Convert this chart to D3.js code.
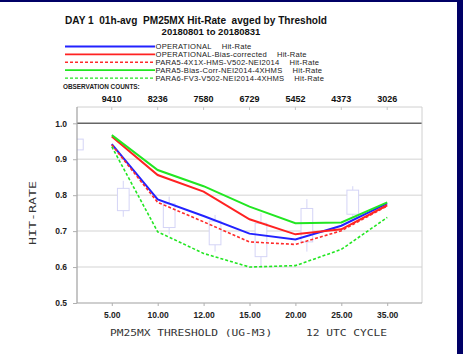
<!DOCTYPE html>
<html>
<head>
<meta charset="utf-8">
<script src="https://cdn.jsdelivr.net/npm/d3@7"></script>
<style>
  body{margin:0;background:#000066;}
  svg{display:block;}
  text{font-family:"Liberation Sans",Arial,sans-serif;}
  text.mono{font-family:"DejaVu Sans Mono","Liberation Mono",monospace;}
</style>
</head>
<body>
<div class="canvas"></div>
<script>
// data
const thresholds=[5,10,12,15,20,25,35];
const obsCounts=[9410,8236,7580,6729,5452,4373,3026];
const yTicks=[0.5,0.6,0.7,0.8,0.9,1.0];

const operational      =[0.942,0.788,0.742,0.693,0.677,0.715,0.777];
const operationalBias  =[0.963,0.856,0.810,0.733,0.691,0.705,0.772];
const para5            =[0.940,0.780,0.726,0.670,0.663,0.701,0.770];
const para5BiasCorr    =[0.967,0.870,0.825,0.768,0.722,0.724,0.780];
const para6Fv3         =[0.935,0.698,0.638,0.600,0.604,0.649,0.738];

// faint box marks (whisker low, box low, box high, whisker high)
const boxLow   =[0.926,0.740,0.691,0.643,0.600,0.643,0.740];
const boxQ1    =[0.926,0.757,0.710,0.662,0.629,0.670,0.747];
const boxQ3    =[0.956,0.819,0.776,0.728,0.722,0.763,0.814];
const boxHigh  =[0.956,0.840,0.796,0.745,0.750,0.789,0.825];

const seriesNames=['OPERATIONAL','OPERATIONAL-Bias-corrected','PARA5-4X1X-HMS-V502-NEI2014',
                   'PARA5-Bias-Corr-NEI2014-4XHMS','PARA6-FV3-V502-NEI2014-4XHMS'];
const seriesValues=[operational,operationalBias,para5,para5BiasCorr,para6Fv3];
const seriesColors=['#2222ff','#ff2222','#ff2a2a','#22e622','#22e622'];
const seriesDash=[null,null,'3,2',null,'3,2'];

const W=463,H=354;
const svg=d3.select('.canvas').append('svg').attr('width',W).attr('height',H);

// white panel
svg.append('rect').attr('x',0).attr('y',2).attr('width',457).attr('height',H-2).attr('fill','#fff');

const pLeft=77,pRight=422,pTop=107,pBottom=303;

const x=d3.scalePoint().domain(thresholds).range([pLeft,pRight]).padding(0.758);
const y=d3.scaleLinear().domain([0.5,1.0]).range([pBottom,123.3]);

// clip for plot
svg.append('clipPath').attr('id','plotclip').append('rect')
   .attr('x',pLeft).attr('y',pTop).attr('width',pRight-pLeft).attr('height',pBottom-pTop);

// grid
svg.append('g').selectAll('line').data(yTicks.filter(d=>d>0.5&&d<1.0)).join('line')
   .attr('x1',pLeft).attr('x2',pRight).attr('y1',d=>y(d)).attr('y2',d=>y(d))
   .attr('stroke','#e2e2e2').attr('stroke-width',1.5);
svg.append('line').attr('x1',pLeft).attr('x2',pRight).attr('y1',y(1.0)).attr('y2',y(1.0))
   .attr('stroke','#666').attr('stroke-width',1.5);

// boxes
const step=x.step();
const bw=step*0.255;
const boxG=svg.append('g').attr('clip-path','url(#plotclip)');
thresholds.forEach((t,i)=>{
  const cx=x(t)-0.75*step;
  boxG.append('line').attr('x1',cx).attr('x2',cx).attr('y1',y(boxLow[i])).attr('y2',y(boxHigh[i]))
      .attr('stroke','#d4d4f6').attr('stroke-width',1);
  boxG.append('rect').attr('x',cx-bw/2).attr('y',y(boxQ3[i])).attr('width',bw)
      .attr('height',y(boxQ1[i])-y(boxQ3[i]))
      .attr('fill','#fff').attr('stroke','#d4d4f6').attr('stroke-width',1);
});

// frame
svg.append('line').attr('x1',pLeft).attr('x2',pRight).attr('y1',pTop).attr('y2',pTop).attr('stroke','#d0d0d0');
svg.append('line').attr('x1',pRight).attr('x2',pRight).attr('y1',pTop).attr('y2',pBottom).attr('stroke','#d0d0d0');
svg.append('line').attr('x1',pLeft).attr('x2',pLeft).attr('y1',pTop).attr('y2',pBottom).attr('stroke','#a0a0a0').attr('stroke-width',1.2);
svg.append('line').attr('x1',pLeft).attr('x2',pRight).attr('y1',pBottom).attr('y2',pBottom).attr('stroke','#a0a0a0').attr('stroke-width',1.2);
// top ticks
svg.append('g').selectAll('line').data(thresholds).join('line')
   .attr('x1',d=>x(d)).attr('x2',d=>x(d)).attr('y1',pTop).attr('y2',pTop+3)
   .attr('stroke','#c8c8c8');

// axes
const yAxisG=svg.append('g').attr('transform',`translate(${pLeft},0)`)
   .call(d3.axisLeft(y).tickValues(yTicks).tickFormat(d3.format('.1f')).tickSize(4).tickPadding(6));
const xAxisG=svg.append('g').attr('transform',`translate(0,${pBottom})`)
   .call(d3.axisBottom(x).tickFormat(d=>d.toFixed(2)).tickSize(3).tickPadding(6));
[yAxisG,xAxisG].forEach(g=>{
  g.select('.domain').remove();
  g.selectAll('line').attr('stroke','#b0b0b0');
  g.selectAll('text').attr('font-size',8.5).attr('font-weight','bold').attr('fill','#222');
});

// lines
const line=d3.line().x((d,i)=>x(thresholds[i])).y(d=>y(d));
seriesValues.forEach((vals,k)=>{
  svg.append('path').datum(vals).attr('d',line).attr('fill','none')
     .attr('stroke',seriesColors[k]).attr('stroke-width',seriesDash[k]?1.6:2)
     .attr('stroke-dasharray',seriesDash[k]);
});

// titles
svg.append('text').attr('x',65).attr('y',24).attr('font-size',10).attr('font-weight','bold')
   .attr('fill','#111').attr('xml:space','preserve').attr('textLength',262).attr('lengthAdjust','spacingAndGlyphs')
   .text('DAY 1  01h-avg  PM25MX Hit-Rate  avged by Threshold');
svg.append('text').attr('x',211).attr('y',34.5).attr('text-anchor','middle').attr('font-size',9.5)
   .attr('font-weight','bold').attr('fill','#111').text('20180801 to 20180831');

// legend
const lg=svg.append('g');
seriesNames.forEach((n,k)=>{
  const ly=46.5+k*7.9;
  lg.append('line').attr('x1',65).attr('x2',155).attr('y1',ly).attr('y2',ly)
    .attr('stroke',seriesColors[k]).attr('stroke-width',seriesDash[k]?1.4:1.8)
    .attr('stroke-dasharray',seriesDash[k]);
  const t=lg.append('text').attr('x',155.5).attr('y',ly+2.7).attr('font-size',7.6)
    .attr('fill','#222').style('letter-spacing','0.25px').text(n);
  const w=t.node().getComputedTextLength();
  lg.append('text').attr('x',155.5+w+10).attr('y',ly+2.7).attr('font-size',7.6)
    .attr('fill','#222').style('letter-spacing','0.25px').text('Hit-Rate');
});

// observation counts
svg.append('text').attr('x',63).attr('y',89).attr('font-size',6.4).attr('font-weight','bold')
   .attr('fill','#222').text('OBSERVATION COUNTS:');
svg.append('g').selectAll('text').data(obsCounts).join('text')
   .attr('x',(d,i)=>x(thresholds[i])).attr('y',101.5).attr('text-anchor','middle')
   .attr('font-size',9).attr('font-weight','bold').attr('fill','#111').text(d=>d);

// axis titles
svg.append('text').attr('class','mono').attr('transform','translate(36,213) rotate(-90)').attr('text-anchor','middle')
   .attr('font-size',8.5).attr('fill','#333')
   .attr('textLength',64).attr('lengthAdjust','spacingAndGlyphs').text('HIT-RATE');
svg.append('text').attr('class','mono').attr('x',110).attr('y',336).attr('xml:space','preserve')
   .attr('font-size',9).attr('fill','#333')
   .attr('textLength',277).attr('lengthAdjust','spacingAndGlyphs')
   .text('PM25MX THRESHOLD (UG-M3)     12 UTC CYCLE');
</script>
</body>
</html>
